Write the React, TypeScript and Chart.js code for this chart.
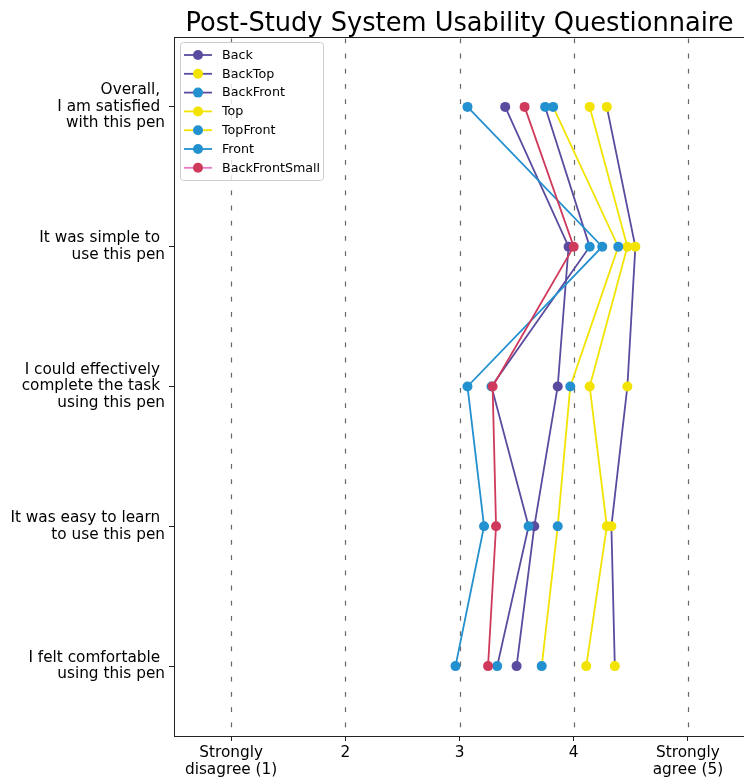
import React, { useEffect, useRef } from "react";
import { Chart, registerables } from "chart.js";
Chart.register(...registerables);

const titleText = "Post-Study System Usability Questionnaire";
const questions: string[][] = [
  ["Overall, ", "I am satisfied ", "with this pen"],
  ["It was simple to ", "use this pen"],
  ["I could effectively ", "complete the task ", "using this pen"],
  ["It was easy to learn ", "to use this pen"],
  ["I felt comfortable ", "using this pen"],
];
const xTickValues = [1, 2, 3, 4, 5];
const xTickLabels: (string | string[])[] = [["Strongly", "disagree (1)"], "2", "3", "4", ["Strongly", "agree (5)"]];

const seriesNames = ["Back", "BackTop", "BackFront", "Top", "TopFront", "Front", "BackFrontSmall"];
const back = [3.40, 3.955, 3.86, 3.655, 3.50];
const backTop = [4.29, 4.54, 4.47, 4.33, 4.36];
const backFront = [3.75, 4.14, 3.28, 3.605, 3.33];
const top = [4.14, 4.47, 4.14, 4.29, 4.11];
const topFront = [3.82, 4.39, 3.97, 3.86, 3.72];
const front = [3.07, 4.25, 3.07, 3.215, 2.965];
const backFrontSmall = [3.57, 4.0, 3.29, 3.32, 3.25];
const seriesValues = [back, backTop, backFront, top, topFront, front, backFrontSmall];

const PURPLE = "#5a4b9e";
const YELLOW = "#f2e300";
const BLUE = "#2390cf";
const RED = "#cf3a5c";
const PINK = "#e47cc0";
const lineColors = [PURPLE, PURPLE, PURPLE, YELLOW, YELLOW, BLUE, RED];
const legendLineColors = [PURPLE, PURPLE, PURPLE, YELLOW, YELLOW, BLUE, PINK];
const markerColors = [PURPLE, YELLOW, BLUE, YELLOW, BLUE, BLUE, RED];

const FONT = '"DejaVu Sans", sans-serif';

export default function App() {
  const ref = useRef<HTMLCanvasElement>(null);
  useEffect(() => {
    const canvas = ref.current!;
    const decor = {
      id: "decor",
      beforeDatasetsDraw(chart: any) {
        const { ctx, chartArea } = chart;
        const xs = chart.scales.x;
        ctx.save();
        ctx.strokeStyle = "rgba(0,0,0,0.6)";
        ctx.lineWidth = 1.2;
        ctx.setLineDash([4.8, 10.4]);
        ctx.lineDashOffset = -1.4;
        for (const v of xTickValues) {
          const px = Math.round(xs.getPixelForValue(v)) + 0.5;
          ctx.beginPath();
          ctx.moveTo(px, chartArea.top);
          ctx.lineTo(px, chartArea.bottom);
          ctx.stroke();
        }
        ctx.restore();
      },
      afterDraw(chart: any) {
        const { ctx, chartArea } = chart;
        ctx.save();
        ctx.strokeStyle = "#222";
        ctx.lineWidth = 1;
        ctx.beginPath();
        ctx.moveTo(chartArea.left, chartArea.top + 0.5);
        ctx.lineTo(chartArea.right, chartArea.top + 0.5);
        ctx.stroke();
        ctx.fillStyle = "#000";
        ctx.font = "25.7px " + FONT;
        ctx.textAlign = "center";
        ctx.textBaseline = "alphabetic";
        ctx.fillText(titleText, (chartArea.left + chartArea.right) / 2, 31);
        const bx = 180.5, by = 42.5, bw = 143, bh = 138, r = 3;
        ctx.beginPath();
        ctx.moveTo(bx + r, by);
        ctx.arcTo(bx + bw, by, bx + bw, by + bh, r);
        ctx.arcTo(bx + bw, by + bh, bx, by + bh, r);
        ctx.arcTo(bx, by + bh, bx, by, r);
        ctx.arcTo(bx, by, bx + bw, by, r);
        ctx.closePath();
        ctx.fillStyle = "rgba(255,255,255,0.8)";
        ctx.fill();
        ctx.strokeStyle = "#cccccc";
        ctx.lineWidth = 1;
        ctx.stroke();
        ctx.font = "12.7px " + FONT;
        ctx.textAlign = "left";
        ctx.textBaseline = "middle";
        seriesNames.forEach((name, i) => {
          const y = 55 + i * 18.8;
          ctx.strokeStyle = legendLineColors[i];
          ctx.lineWidth = 1.8;
          ctx.beginPath();
          ctx.moveTo(184, y);
          ctx.lineTo(212, y);
          ctx.stroke();
          ctx.fillStyle = markerColors[i];
          ctx.beginPath();
          ctx.arc(198, y, 5, 0, Math.PI * 2);
          ctx.fill();
          ctx.fillStyle = "#000";
          ctx.fillText(name, 222, y + 0.5);
        });
        ctx.restore();
      },
    };
    const chart = new Chart(canvas, {
      type: "scatter",
      data: {
        datasets: seriesNames.map((name, i) => ({
          label: name,
          data: seriesValues[i].map((v, q) => ({ x: v, y: q })),
          showLine: true,
          borderColor: lineColors[i],
          backgroundColor: markerColors[i],
          pointBackgroundColor: markerColors[i],
          pointBorderColor: markerColors[i],
          pointBorderWidth: 0,
          pointRadius: 5,
          borderWidth: 1.8,
          tension: 0,
          order: 6 - i,
        })),
      },
      options: {
        responsive: false,
        devicePixelRatio: 1,
        animation: false,
        layout: { padding: { top: 37, right: 4, left: 0, bottom: 0 } },
        plugins: { legend: { display: false }, tooltip: { enabled: false }, title: { display: false } },
        scales: {
          x: {
            type: "linear",
            min: 0.5,
            max: 5.5,
            afterBuildTicks: (s: any) => { s.ticks = xTickValues.map((v) => ({ value: v })); },
            afterFit: (s: any) => { s.height = 44; },
            ticks: {
              callback: (v: any) => xTickLabels[xTickValues.indexOf(Number(v))] ?? "",
              font: { family: FONT, size: 15.3, lineHeight: 1.11 },
              color: "#000",
              padding: 4,
              maxRotation: 0,
              autoSkip: false,
            },
            grid: { drawOnChartArea: false, drawTicks: true, tickLength: 5, tickColor: "#222", tickWidth: 1 },
            border: { display: true, color: "#222", width: 1 },
          },
          y: {
            type: "linear",
            reverse: true,
            min: -0.5,
            max: 4.5,
            afterBuildTicks: (s: any) => { s.ticks = questions.map((_, i) => ({ value: i })); },
            afterFit: (s: any) => { s.width = 174; },
            ticks: {
              callback: (v: any) => questions[Number(v)] ?? "",
              font: { family: FONT, size: 15.3, lineHeight: 1.08 },
              color: "#000",
              padding: 4,
              autoSkip: false,
              crossAlign: "near",
            },
            grid: { drawOnChartArea: false, drawTicks: true, tickLength: 5, tickColor: "#222", tickWidth: 1 },
            border: { display: true, color: "#222", width: 1 },
          },
        },
      },
      plugins: [decor],
    } as any);
    return () => chart.destroy();
  }, []);
  return (
    <div style={{ position: "fixed", left: 0, top: 0, width: 744, height: 780, overflow: "hidden", background: "#fff" }}>
      <canvas ref={ref} width={750} height={780} style={{ display: "block" }} />
    </div>
  );
}
